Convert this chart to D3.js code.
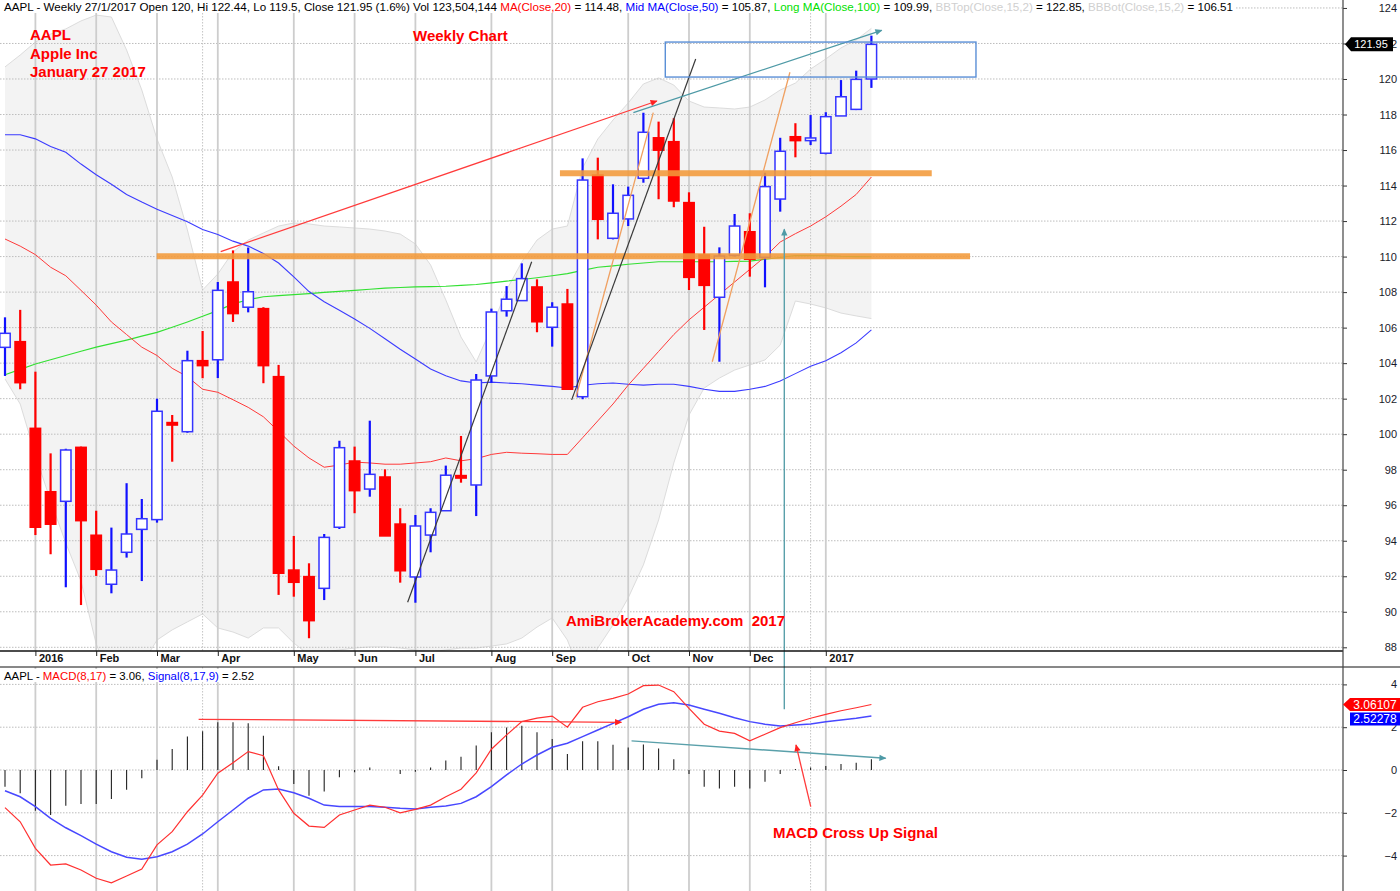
<!DOCTYPE html>
<html><head><meta charset="utf-8">
<script src="https://cdn.jsdelivr.net/npm/d3@7"></script>
<style>
body{margin:0;background:#fff;}
svg{display:block;font-family:"Liberation Sans",Arial,sans-serif;}
text{white-space:pre;}
</style>
</head><body>
<svg id="c" width="1400" height="891"></svg>
<script>
// ---------- DATA ----------
const weeks = d3.timeFriday.range(new Date(2015,11,25), new Date(2017,0,28)); // 58 weekly bars
const open  = [104.89,105.21,100.33,96.76,96.22,99.26,94.31,91.55,93.35,94.64,95.19,100.65,100.14,104.14,104.19,108.57,107.15,107.07,103.24,92.35,91.98,91.32,94.76,98.49,96.91,97.59,94.94,91.96,94.32,95.69,97.65,97.14,103.28,106.95,107.52,108.29,106.02,107.33,102.11,114.59,111.03,112.12,114.41,116.69,116.47,113.04,110.09,107.71,110.07,111.40,109.96,113.24,116.75,116.53,115.82,117.92,118.29,120.00];
const high  = [106.58,107.00,103.52,98.92,99.18,99.30,95.69,94.74,97.24,96.35,102.00,101.08,104.70,105.81,108.57,110.35,110.51,107.15,103.90,94.27,92.73,94.38,99.63,99.30,100.76,98.02,95.83,95.45,95.83,98.23,99.90,103.39,107.07,108.34,109.62,108.72,107.43,108.18,115.53,115.57,114.07,113.94,118.10,117.60,117.79,113.62,111.68,110.52,112.40,112.44,114.72,116.69,117.51,117.97,118.13,119.94,120.47,122.44];
const low   = [103.28,102.53,94.32,93.24,91.38,90.38,92.02,91.04,93.05,91.73,95.02,98.45,100.08,103.15,103.16,106.32,106.86,102.87,90.95,90.85,88.51,90.66,94.66,95.55,96.48,94.27,91.64,90.51,93.35,95.69,97.27,95.39,102.90,106.62,107.52,105.74,104.93,102.53,101.97,110.97,110.97,111.72,114.16,113.23,112.78,108.12,105.87,104.08,110.00,108.87,108.27,112.53,115.59,116.28,115.76,117.92,118.25,119.50];
const close = [105.68,102.90,94.76,94.93,99.11,95.13,92.39,92.35,94.38,95.24,101.29,100.52,104.14,103.86,108.10,106.79,108.02,103.86,92.17,91.66,89.50,94.19,99.24,96.82,97.74,94.27,92.31,94.83,95.60,97.69,97.55,103.05,106.88,107.60,108.76,106.33,107.15,102.53,114.31,112.10,112.44,113.45,117.00,115.99,113.13,108.83,108.38,110.03,111.72,109.85,113.94,115.93,116.53,116.68,117.88,119.00,119.98,121.95];

const ma20  = [110.99,110.59,110.11,109.40,108.92,108.10,107.27,106.32,105.61,104.90,104.43,103.71,103.24,102.53,102.36,101.94,101.51,100.98,100.16,99.33,98.66,98.14,98.26,98.43,98.38,98.31,98.31,98.38,98.45,98.66,98.50,98.62,98.86,98.98,98.93,98.90,98.86,98.86,99.80,100.75,101.70,102.76,103.71,104.66,105.61,106.44,107.15,107.86,108.57,109.28,109.99,110.82,111.29,111.72,112.24,112.84,113.50,114.48];
const ma50  = [116.86,116.86,116.63,116.20,115.87,115.21,114.61,114.07,113.50,113.07,112.67,112.31,111.96,111.53,111.25,110.87,110.59,110.18,109.64,108.86,108.03,107.46,106.98,106.49,105.96,105.37,104.78,104.23,103.67,103.29,103.00,102.88,102.93,102.88,102.84,102.76,102.69,102.60,102.76,102.84,102.88,102.81,102.76,102.81,102.81,102.69,102.53,102.41,102.41,102.53,102.69,103.00,103.41,103.83,104.14,104.59,105.14,105.87];
const ma100 = [103.35,103.65,103.95,104.19,104.43,104.67,104.90,105.10,105.30,105.52,105.73,106.02,106.32,106.64,106.96,107.34,107.57,107.74,107.80,107.86,107.92,107.98,108.04,108.10,108.16,108.22,108.26,108.29,108.31,108.33,108.38,108.43,108.52,108.62,108.71,108.81,108.92,109.04,109.22,109.40,109.48,109.57,109.64,109.71,109.71,109.71,109.71,109.71,109.73,109.75,109.85,109.95,110.06,110.06,110.06,110.02,110.00,109.99];
const bbTop = [120.68,121.35,122.08,122.53,122.82,123.27,123.60,123.49,121.63,119.38,116.62,114.48,111.50,108.12,109.02,110.26,110.93,111.33,111.72,111.89,111.84,111.72,111.67,111.61,111.55,111.44,111.27,110.71,109.53,107.56,105.47,104.07,105.98,108.12,109.70,110.93,111.55,111.72,114.99,116.62,117.69,118.65,119.72,120.06,119.66,118.76,118.42,118.37,118.31,118.42,118.82,119.38,119.77,120.56,121.13,121.75,122.20,122.85];
const bbBot = [103.11,101.70,98.83,96.24,93.87,91.73,88.19,86.16,85.60,87.01,88.41,88.98,89.43,89.88,89.09,88.86,88.52,89.09,89.09,88.24,87.57,87.74,87.85,87.96,88.02,88.02,87.96,87.85,87.74,87.85,87.96,87.96,88.07,88.19,88.52,89.14,89.65,88.41,86.16,87.96,89.26,90.78,92.64,95.17,98.38,101.08,102.60,103.16,103.61,103.90,104.18,105.02,107.50,107.33,107.11,106.82,106.66,106.51];

const macd   = [-1.76,-2.42,-3.66,-4.44,-4.39,-4.67,-5.06,-5.27,-4.95,-4.63,-3.50,-2.88,-1.95,-1.17,-0.15,0.34,0.86,0.67,-0.93,-2.02,-2.62,-2.68,-2.10,-1.87,-1.64,-1.74,-2.00,-1.84,-1.64,-1.25,-0.90,-0.13,0.97,1.64,2.26,2.42,2.52,2.00,2.93,3.19,3.35,3.55,3.94,3.97,3.66,2.88,2.14,1.82,1.71,1.36,1.67,1.98,2.21,2.42,2.60,2.77,2.91,3.06];
const signal = [-0.97,-1.25,-1.71,-2.26,-2.70,-3.07,-3.46,-3.82,-4.08,-4.17,-4.05,-3.82,-3.46,-2.99,-2.42,-1.87,-1.32,-0.93,-0.89,-1.06,-1.32,-1.64,-1.71,-1.71,-1.71,-1.74,-1.79,-1.82,-1.74,-1.68,-1.56,-1.25,-0.78,-0.23,0.28,0.70,1.06,1.25,1.56,1.87,2.18,2.49,2.84,3.07,3.14,3.04,2.84,2.65,2.44,2.26,2.14,2.06,2.10,2.15,2.26,2.34,2.42,2.52];
const hist   = [-0.78,-1.09,-1.90,-2.10,-1.67,-1.59,-1.59,-1.36,-0.92,-0.39,0.48,0.98,1.56,1.81,2.23,2.23,2.18,1.60,0.17,-0.65,-1.20,-1.01,-0.34,-0.11,0.12,0.0,-0.19,-0.08,0.12,0.44,0.62,1.14,1.76,1.99,2.07,1.76,1.45,0.75,1.34,1.34,1.18,1.05,1.19,1.00,0.50,-0.19,-0.78,-0.86,-0.78,-0.86,-0.55,-0.19,0.05,0.12,0.19,0.28,0.34,0.50];

const monthLabels = ["2016","Feb","Mar","Apr","May","Jun","Jul","Aug","Sep","Oct","Nov","Dec","2017"];
const monthWeeks  = [2,6,10,14,19,23,27,32,36,41,45,49,54];
const dottedWeeks = [13,53];
const priceTicks  = [88,90,92,94,96,98,100,102,104,106,108,110,112,114,116,118,120,122,124];
const macdTicks   = [-4,-2,0,2,4];

// annotations in data units [week index, value]
const redArrow   = [[14.19,110.28],[42.89,118.76]];
const tealArrow  = [[41.34,118.10],[57.68,122.74]];
const blackLine1 = [[26.49,90.54],[34.65,109.71]];
const blackLine2 = [[37.28,101.93],[45.44,121.13]];
const orangeThin1= [[37.57,102.11],[42.65,118.11]];
const orangeThin2= [[46.53,104.08],[51.64,120.38]];
const orangeLevels = [{from:36.51,to:60.97,v:114.69},{from:9.98,to:63.49,v:110.02}];
const boxZone    = {from:43.44,to:63.88,top:122.08,bottom:120.11};
const macdRedArrow  = [[12.74,2.37],[40.55,2.23]];
const macdTealArrow = [[41.22,1.36],[57.94,0.55]];
const macdCrossArrow= [[53.01,-1.71],[52.04,1.17]];
const crossWeek = 51.27, crossMacd = 2.84, crossPrice = 111.54;

// ---------- LAYOUT ----------
const svg = d3.select("#c");
const AX = 1343, PB = 651, MT = 667, H = 891;
const x  = d3.scaleLinear().domain([0, weeks.length-1]).range([5, 871.4]);
const y  = d3.scaleLinear().domain([88,124]).range([647.3, 7.96]);
const ym = d3.scaleLinear().domain([-4,4]).range([855.6, 684.4]);
const idx = d3.range(weeks.length);

const defs = svg.append("defs");
defs.append("clipPath").attr("id","cp").append("rect").attr("x",0).attr("y",0).attr("width",AX).attr("height",PB);
defs.append("clipPath").attr("id","cm").append("rect").attr("x",0).attr("y",MT).attr("width",AX).attr("height",H-MT);
function marker(id,color){
  defs.append("marker").attr("id",id).attr("viewBox","0 0 10 10").attr("refX",9).attr("refY",5)
    .attr("markerWidth",8).attr("markerHeight",7).attr("markerUnits","userSpaceOnUse").attr("orient","auto")
    .append("path").attr("d","M0,0.5 L10,5 L0,9.5 z").attr("fill",color);
}
marker("mRed","#ff2020"); marker("mTeal","#4e9aa6");

svg.append("rect").attr("width",1400).attr("height",H).attr("fill","#fff");

const gp = svg.append("g").attr("clip-path","url(#cp)");
const gm = svg.append("g").attr("clip-path","url(#cm)");

// Bollinger band
gp.append("path").datum(idx)
  .attr("d", d3.area().x(i=>x(i)).y0(i=>y(bbBot[i])).y1(i=>y(bbTop[i])))
  .attr("fill","#f3f3f3");
[bbTop,bbBot].forEach(arr=>gp.append("path").datum(idx)
  .attr("d", d3.line().x(i=>x(i)).y(i=>y(arr[i]))).attr("fill","none").attr("stroke","#dcdcdc").attr("stroke-width",1));

// grids
gp.selectAll(".hg").data(priceTicks).join("line")
  .attr("x1",0).attr("x2",AX).attr("y1",d=>y(d)).attr("y2",d=>y(d))
  .attr("stroke","#bdbdbd").attr("stroke-dasharray","1.5,1.5").attr("stroke-width",1);
gm.selectAll(".hg").data(macdTicks).join("line")
  .attr("x1",0).attr("x2",AX).attr("y1",d=>ym(d)).attr("y2",d=>ym(d))
  .attr("stroke","#bdbdbd").attr("stroke-dasharray","1.5,1.5").attr("stroke-width",1);
[[gp,13,PB],[gm,MT,H]].forEach(([g,a,b])=>{
  g.selectAll(".vg").data(monthWeeks).join("line")
    .attr("x1",d=>x(d)).attr("x2",d=>x(d)).attr("y1",a).attr("y2",b)
    .attr("stroke","#cdcdcd").attr("stroke-width",1.8);
  g.selectAll(".vd").data(dottedWeeks).join("line").attr("class","vd")
    .attr("x1",d=>x(d)).attr("x2",d=>x(d)).attr("y1",a).attr("y2",b)
    .attr("stroke","#c4c4c4").attr("stroke-dasharray","1.5,1.5");
});

// moving averages
[[ma100,"#33e033",1.2],[ma50,"#3b3bff",1.1],[ma20,"#ff3a3a",1]].forEach(([arr,c,w])=>{
  gp.append("path").datum(idx).attr("d", d3.line().x(i=>x(i)).y(i=>y(arr[i])))
    .attr("fill","none").attr("stroke",c).attr("stroke-width",w);
});

// candles
const cg = gp.append("g");
idx.forEach(i=>{
  const up = close[i] >= open[i];
  const col = up ? "#1010ff" : "#ff0000";
  cg.append("line").attr("x1",x(i)).attr("x2",x(i)).attr("y1",y(high[i])).attr("y2",y(low[i]))
    .attr("stroke",col).attr("stroke-width",2.2);
  const top = y(Math.max(open[i],close[i])), bot = y(Math.min(open[i],close[i]));
  const hgt = Math.max(bot-top, 2.5);
  cg.append("rect").attr("x",x(i)-5.2).attr("width",10.4).attr("y",top - (hgt>bot-top ? (hgt-(bot-top))/2 : 0)).attr("height",hgt)
    .attr("fill", up ? "#fff" : "#ff0000").attr("stroke", up ? "#3434ff" : "#ff0000").attr("stroke-width",1.5);
});

// annotation lines (price)
const pl = d3.line().x(d=>x(d[0])).y(d=>y(d[1]));
orangeLevels.forEach(o=>{
  gp.append("line").attr("x1",x(o.from)).attr("x2",x(o.to)).attr("y1",y(o.v)).attr("y2",y(o.v))
    .attr("stroke","#f39a3a").attr("stroke-opacity",0.88).attr("stroke-width",6);
});
gp.append("path").attr("d",pl(orangeThin1)).attr("stroke","#f0a060").attr("stroke-width",1.3).attr("fill","none");
gp.append("path").attr("d",pl(orangeThin2)).attr("stroke","#f0a060").attr("stroke-width",1.3).attr("fill","none");
gp.append("path").attr("d",pl(blackLine1)).attr("stroke","#3a3a3a").attr("stroke-width",1.2).attr("fill","none");
gp.append("path").attr("d",pl(blackLine2)).attr("stroke","#3a3a3a").attr("stroke-width",1.2).attr("fill","none");
gp.append("path").attr("d",pl(redArrow)).attr("stroke","#ff3b3b").attr("stroke-width",1.2).attr("fill","none").attr("marker-end","url(#mRed)");
gp.append("path").attr("d",pl(tealArrow)).attr("stroke","#4e9aa6").attr("stroke-width",1.3).attr("fill","none").attr("marker-end","url(#mTeal)");
gp.append("rect").attr("x",x(boxZone.from)).attr("y",y(boxZone.top)).attr("width",x(boxZone.to)-x(boxZone.from))
  .attr("height",y(boxZone.bottom)-y(boxZone.top)).attr("fill","none").attr("stroke","#5a8fd6").attr("stroke-width",1.4);

// MACD panel
gm.selectAll(".hb").data(idx).join("line")
  .attr("x1",i=>x(i)).attr("x2",i=>x(i)).attr("y1",ym(0)).attr("y2",i=>ym(hist[i]))
  .attr("stroke","#222").attr("stroke-width",1.1);
gm.append("path").datum(idx).attr("d", d3.line().x(i=>x(i)).y(i=>ym(signal[i])))
  .attr("fill","none").attr("stroke","#4848ff").attr("stroke-width",1.5);
gm.append("path").datum(idx).attr("d", d3.line().x(i=>x(i)).y(i=>ym(macd[i])))
  .attr("fill","none").attr("stroke","#ff3030").attr("stroke-width",1.2);
const ml = d3.line().x(d=>x(d[0])).y(d=>ym(d[1]));
gm.append("path").attr("d",ml(macdRedArrow)).attr("stroke","#ff3b3b").attr("stroke-width",1.3).attr("fill","none").attr("marker-end","url(#mRed)");
gm.append("path").attr("d",ml(macdTealArrow)).attr("stroke","#5aa0aa").attr("stroke-width",1.4).attr("fill","none").attr("marker-end","url(#mTeal)");
gm.append("path").attr("d",ml(macdCrossArrow)).attr("stroke","#ff3b3b").attr("stroke-width",1.3).attr("fill","none").attr("marker-end","url(#mRed)");

// cross-panel teal vertical arrow
svg.append("line").attr("x1",x(crossWeek)).attr("x2",x(crossWeek)).attr("y1",ym(crossMacd)).attr("y2",y(crossPrice))
  .attr("stroke","#5aa0aa").attr("stroke-width",1.4).attr("marker-end","url(#mTeal)");

// headers
function header(yb, width, parts){
  const t = svg.append("text").attr("x",4).attr("y",yb).attr("font-size",11)
    .attr("textLength",width).attr("lengthAdjust","spacingAndGlyphs");
  parts.forEach(([s,c])=>t.append("tspan").text(s).attr("fill",c));
  svg.insert("rect", () => t.node()).attr("x",0).attr("y",yb-11).attr("width",width+6).attr("height",13).attr("fill","#fff");
  return t;
}
header(11,1229,[["AAPL - Weekly 27/1/2017 Open 120, Hi 122.44, Lo 119.5, Close 121.95 (1.6%) Vol 123,504,144 ","#000"],
  ["MA(Close,20)","#ff0000"],[" = 114.48, ","#000"],["Mid MA(Close,50)","#0000ff"],[" = 105.87, ","#000"],
  ["Long MA(Close,100)","#00e000"],[" = 109.99, ","#000"],["BBTop(Close,15,2)","#d0d0d0"],[" = 122.85, ","#000"],
  ["BBBot(Close,15,2)","#d0d0d0"],[" = 106.51","#000"]]);
header(680,250,[["AAPL - ","#000"],["MACD(8,17)","#ff0000"],[" = 3.06, ","#000"],["Signal(8,17,9)","#0000ff"],[" = 2.52","#000"]]);

// annotation texts
const red = "#ff0000";
[["AAPL",30,40],["Apple Inc",30,59],["January 27 2017",30,77],["Weekly Chart",413,41],["AmiBrokerAcademy.com  2017",566,626],["MACD Cross Up Signal",773,838]]
  .forEach(([s,tx,ty])=>svg.append("text").attr("x",tx).attr("y",ty).attr("fill",red).attr("font-size",15).attr("font-weight","bold").text(s));

// separators
svg.append("line").attr("x1",0).attr("x2",AX).attr("y1",PB).attr("y2",PB).attr("stroke","#111").attr("stroke-width",1.5);
svg.append("line").attr("x1",0).attr("x2",1400).attr("y1",MT).attr("y2",MT).attr("stroke","#111").attr("stroke-width",1);

// date axis
const dax = svg.append("g").attr("transform",`translate(0,${PB})`)
  .call(d3.axisBottom(x).tickValues(monthWeeks).tickFormat((d,i)=>monthLabels[i]).tickSize(5));
dax.select(".domain").remove();
dax.selectAll(".tick line").attr("stroke","#222");
dax.selectAll(".tick text").attr("text-anchor","start").attr("x",3).attr("y",3).attr("dy","0.71em")
  .attr("font-size",11).attr("font-weight","bold").attr("font-family","Liberation Sans, Arial, sans-serif").attr("fill","#111");

// right axes
function rightAxis(scale, ticks){
  const g = svg.append("g").attr("transform",`translate(${AX},0)`)
    .call(d3.axisRight(scale).tickValues(ticks).tickSize(4).tickFormat(d3.format("d")));
  g.select(".domain").remove();
  g.selectAll(".tick line").attr("stroke","#333");
  g.selectAll(".tick text").attr("text-anchor","end").attr("x",54).attr("font-size",11)
    .attr("font-family","Liberation Sans, Arial, sans-serif").attr("fill","#1a1a2a");
}
rightAxis(y, priceTicks);
rightAxis(ym, macdTicks);
svg.append("line").attr("x1",AX).attr("x2",AX).attr("y1",0).attr("y2",H).attr("stroke","#444").attr("stroke-width",1.2);

// value flags
const last = weeks.length-1;
const yc = y(close[last]);
svg.append("path").attr("d",`M${AX+2},${yc} L${AX+8},${yc-7} L1393,${yc-7} L1393,${yc+7} L${AX+8},${yc+7} Z`).attr("fill","#000");
svg.append("text").attr("x",1371).attr("y",yc+4).attr("text-anchor","middle").attr("font-size",11).attr("fill","#fff").text(close[last].toFixed(2));
const yr = ym(3.06107);
svg.append("path").attr("d",`M${AX},${yr} L${AX+7},${yr-6.5} L1400,${yr-6.5} L1400,${yr+6.5} L${AX+7},${yr+6.5} Z`).attr("fill","#ff0000");
svg.append("text").attr("x",1375).attr("y",yr+4.2).attr("text-anchor","middle").attr("font-size",12).attr("fill","#fff").text("3.06107");
const yb = yr + 14.5;
svg.append("rect").attr("x",AX+7).attr("y",yb-6.5).attr("width",1400-AX-7).attr("height",13).attr("fill","#0000ff");
svg.append("text").attr("x",1375).attr("y",yb+4.2).attr("text-anchor","middle").attr("font-size",12).attr("fill","#fff").text("2.52278");
</script>
</body></html>
